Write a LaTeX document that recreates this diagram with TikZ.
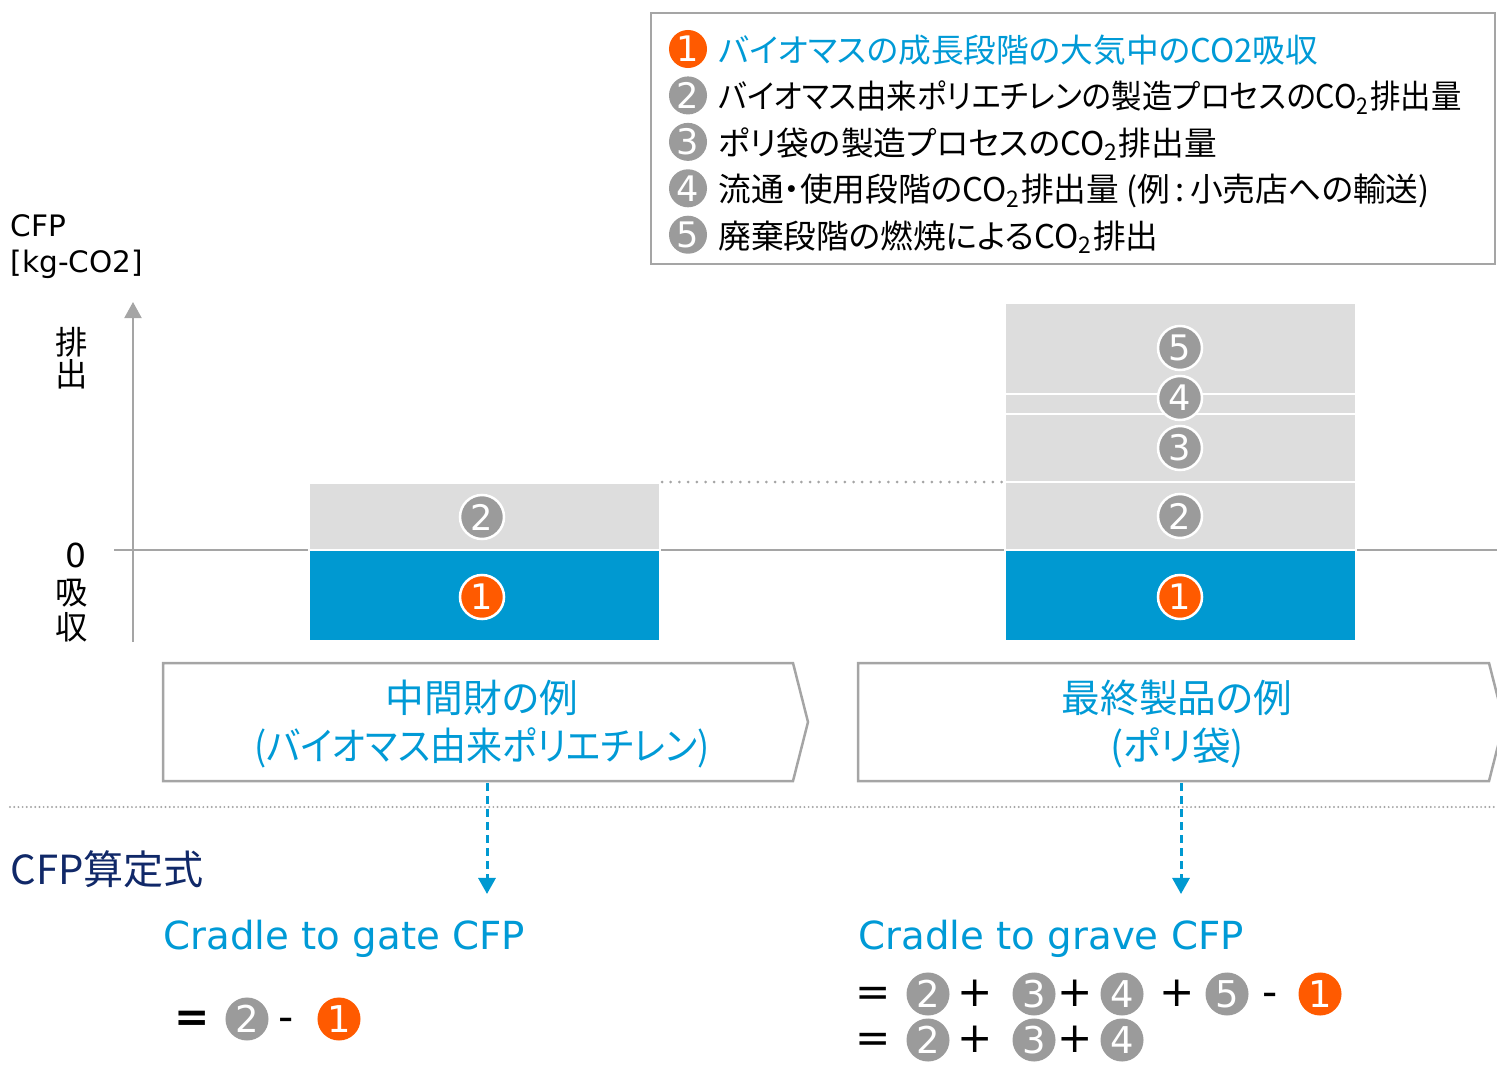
\documentclass[tikz,border=0pt]{standalone}
\usepackage{fontspec}
\setmainfont{DejaVu Sans}
\newfontfamily\jp[RawFeature=+palt]{Noto Sans CJK JP}
\newfontfamily\jpc[RawFeature=+palt, FakeStretch=0.93]{Noto Sans CJK JP}
\usetikzlibrary{arrows.meta,positioning}

\definecolor{cblue}{RGB}{0,153,209}
\definecolor{ctext}{RGB}{0,154,214}
\definecolor{corange}{RGB}{255,90,0}
\definecolor{cgray}{RGB}{155,155,155}
\definecolor{cbar}{RGB}{221,221,221}
\definecolor{cline}{RGB}{165,165,165}
\definecolor{cnavy}{RGB}{16,40,104}

\begin{document}
\begin{tikzpicture}[x=0.01cm, y=-0.01cm,
  num/.style={circle, fill=cgray, text=white, inner sep=0pt, minimum size=0.38cm, font=\fontsize{10}{10}\selectfont},
  onum/.style={num, fill=corange},
  barnum/.style={num, draw=white, line width=0.025cm, minimum size=0.44cm},
  eqnum/.style={num, minimum size=0.43cm, font=\fontsize{10.5}{10.5}\selectfont},
  legtext/.style={inner sep=0pt, font=\jp\fontsize{9.3}{11}\selectfont, text height=0.88em, text depth=0.12em},
  barpart/.style={draw=white, line width=0.02cm},
  axisline/.style={draw=cline, line width=0.02cm},
  pentbox/.style={draw=cline, line width=0.025cm},
  boxtext/.style={align=center, text=ctext, font=\jp\fontsize{11}{13.7}\selectfont},
  flow/.style={draw=cblue, line width=0.03cm, dash pattern=on 0.08cm off 0.05cm, -{Triangle[width=0.17cm,length=0.16cm]}},
  ctitle/.style={anchor=base west, inner sep=0pt, text=ctext, font=\fontsize{11}{11}\selectfont},
  op/.style={inner sep=0pt, font=\fontsize{12}{12}\selectfont, text height=0.72em, text depth=0em},
  ylab/.style={inner sep=0pt, font=\jp\fontsize{9.2}{9.2}\selectfont},
  dots/.style={draw=cline, line width=0.03cm, line cap=round, dash pattern=on 0pt off 0.087cm},
]
\useasboundingbox (0,0) rectangle (1497,1091);

% legend
\draw[cline, line width=0.02cm] (651,13) rectangle (1495,264);
\node[onum] (n1) at (688,49) {1};
\node[num, below=0.07cm of n1] (n2) {2};
\node[num, below=0.07cm of n2] (n3) {3};
\node[num, below=0.07cm of n3] (n4) {4};
\node[num, below=0.07cm of n4] (n5) {5};
\node[legtext, text=ctext, right=0.1cm of n1] (t1) {バイオマスの成長段階の大気中のCO2吸収};
\node[legtext, font=\jpc\fontsize{9.3}{11}\selectfont, right=0.1cm of n2] (t2) {バイオマス由来ポリエチレンの製造プロセスのCO\textsubscript{2}排出量};
\node[legtext, right=0.1cm of n3] (t3) {ポリ袋の製造プロセスのCO\textsubscript{2}排出量};
\node[legtext, right=0.1cm of n4] (t4) {流通・使用段階のCO\textsubscript{2}排出量 (例\,:\,小売店への輸送)};
\node[legtext, right=0.1cm of n5] (t5) {廃棄段階の燃焼によるCO\textsubscript{2}排出};

% axes
\node[anchor=base west, inner sep=0pt, font=\fontsize{8.4}{8.4}\selectfont] (cfp) at (10,237) {CFP};
\node[anchor=base west, inner sep=0pt, font=\fontsize{8.4}{8.4}\selectfont] (unit) at (10,272) {[kg-CO2]};
\coordinate (ybot) at (133,642);
\coordinate (ytop) at (133,302);
\coordinate (zl) at (114,550);
\coordinate (zr) at (1497,550);
\draw[axisline, -{Triangle[width=0.17cm,length=0.16cm]}] (ybot) -- (ytop);
\draw[axisline] (zl) -- (zr);
\node[ylab] (up1) at (72,342) {排};
\node[ylab] (up2) at (72,374) {出};
\node[inner sep=0pt, font=\fontsize{9.4}{9.4}\selectfont] (zero) at (76,555) {0};
\node[ylab] (dn1) at (72,593) {吸};
\node[ylab] (dn2) at (72,627) {収};

% bars
\filldraw[fill=cbar, barpart] (309,483) rectangle (660,550);
\filldraw[fill=cblue, barpart] (309,550) rectangle (660,641);
\node[barnum] (a2) at (482,517) {2};
\node[barnum, fill=corange] (a1) at (482,597) {1};

\filldraw[fill=cbar, barpart] (1005,303) rectangle (1356,394);
\filldraw[fill=cbar, barpart] (1005,394) rectangle (1356,414);
\filldraw[fill=cbar, barpart] (1005,414) rectangle (1356,482);
\filldraw[fill=cbar, barpart] (1005,482) rectangle (1356,550);
\filldraw[fill=cblue, barpart] (1005,550) rectangle (1356,641);
\node[barnum] (b5) at (1180,348) {5};
\node[barnum] (b4) at (1180,398) {4};
\node[barnum] (b3) at (1180,448) {3};
\node[barnum] (b2) at (1180,516) {2};
\node[barnum, fill=corange] (b1) at (1180,597) {1};

\coordinate (dl) at (662,482);
\coordinate (dr) at (1002,482);
\draw[dots] (dl) -- (dr);

% example boxes
\draw[pentbox] (163,663) -- (793,663) -- (808,722) -- (793,781) -- (163,781) -- cycle;
\draw[pentbox] (858,663) -- (1489,663) -- (1504,722) -- (1489,781) -- (858,781) -- cycle;
\node[boxtext] (midtxt) at (482,724) {中間財の例\\{\jpc (バイオマス由来ポリエチレン)}};
\node[boxtext] (endtxt) at (1177,724) {最終製品の例\\(ポリ袋)};

\coordinate (sepl) at (10,807);
\coordinate (sepr) at (1497,807);
\draw[dots, line width=0.022cm, dash pattern=on 0pt off 0.042cm] (sepl) -- (sepr);

\coordinate (gatefoot) at (487,783);
\coordinate (gatehead) at (487,894);
\coordinate (gravefoot) at (1181,783);
\coordinate (gravehead) at (1181,894);
\draw[flow] (gatefoot) -- (gatehead);
\draw[flow] (gravefoot) -- (gravehead);

% formulas
\node[anchor=base west, inner sep=0pt, text=cnavy, font=\jp\fontsize{11.4}{11.4}\selectfont] (calc) at (10,884) {CFP算定式};
\node[ctitle] (gate) at (163,949) {Cradle to gate CFP};
\node[ctitle] (grave) at (858,949) {Cradle to grave CFP};

\node[op, font=\bfseries\fontsize{12}{12}\selectfont] (g0) at (192,1019) {=};
\node[eqnum] (g2) at (247,1019) {2};
\node[op] (gm) at (286,1019) {-};
\node[eqnum, fill=corange] (g1) at (339,1019) {1};

\node[op] (r0) at (873,994) {=};
\node[eqnum] (r2) at (928,994) {2};
\node[op] (rp1) at (975,994) {+};
\node[eqnum] (r3) at (1034,994) {3};
\node[op] (rp2) at (1075,994) {+};
\node[eqnum] (r4) at (1122,994) {4};
\node[op] (rp3) at (1177,994) {+};
\node[eqnum] (r5) at (1227,994) {5};
\node[op] (rm) at (1270,994) {-};
\node[eqnum, fill=corange] (r1) at (1320,994) {1};

\node[op] (s0) at (873,1040) {=};
\node[eqnum] (s2) at (928,1040) {2};
\node[op] (sp1) at (975,1040) {+};
\node[eqnum] (s3) at (1034,1040) {3};
\node[op] (sp2) at (1075,1040) {+};
\node[eqnum] (s4) at (1122,1040) {4};
\end{tikzpicture}
\end{document}
